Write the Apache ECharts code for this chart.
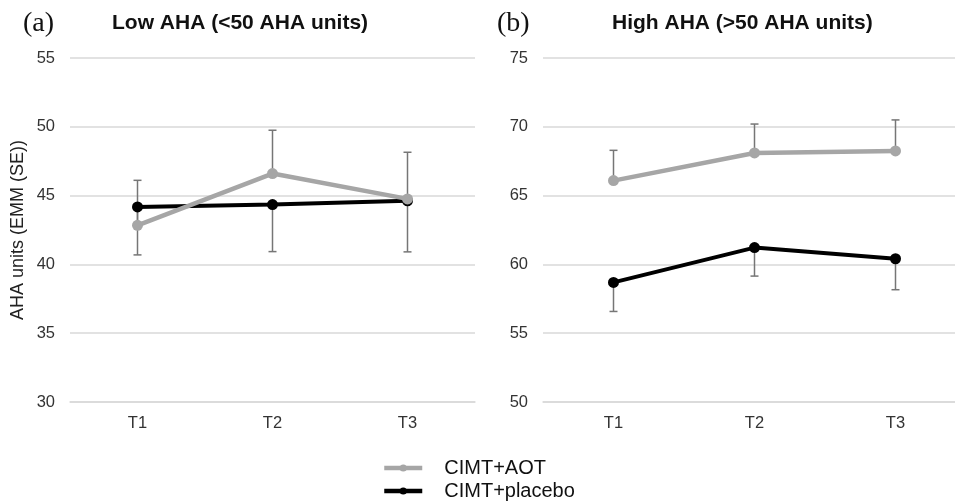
<!DOCTYPE html>
<html>
<head>
<meta charset="utf-8">
<script src="https://cdn.jsdelivr.net/npm/echarts@6/dist/echarts.min.js"></script>
<style>html,body{margin:0;padding:0;background:#fff;}#chart{width:955px;height:504px;}</style>
</head>
<body>
<div id="chart"></div>
<script>
const categories = ['T1', 'T2', 'T3'];
const lowAOT = [42.84, 46.6, 44.76];
const lowAOTse = [3.27, 3.15, 3.39];
const lowPlacebo = [44.18, 44.35, 44.62];
const lowPlaceboSe = [3.49, 3.42, 3.71];
const highAOT = [66.09, 68.1, 68.25];
const highAOTse = [2.2, 2.1, 2.25];
const highPlacebo = [58.69, 61.22, 60.41];
const highPlaceboSe = [2.11, 2.07, 2.25];
const lowTicks = [30, 55, 5];
const highTicks = [50, 75, 5];
const seriesNames = ['CIMT+AOT', 'CIMT+placebo'];

const GRAY = '#a6a6a6', BLACK = '#000000', ERR = '#767676';
const SANS = 'Liberation Sans, Arial, sans-serif';
const SERIF = 'Liberation Serif, Times New Roman, serif';

function errData(vals, se, sign) {
  return vals.map((v, i) => [i, v, v + sign * se[i]]);
}
function renderErr(params, api) {
  const x = api.value(0);
  const a = api.coord([x, api.value(1)]);
  const b = api.coord([x, api.value(2)]);
  const style = { stroke: ERR, lineWidth: 1.5 };
  return {
    type: 'group',
    children: [
      { type: 'line', shape: { x1: a[0], y1: a[1], x2: b[0], y2: b[1] }, style },
      { type: 'line', shape: { x1: b[0] - 4, y1: b[1], x2: b[0] + 4, y2: b[1] }, style }
    ]
  };
}
function errSeries(idx, vals, se, sign) {
  return {
    type: 'custom', xAxisIndex: idx, yAxisIndex: idx, z: 1, silent: true,
    renderItem: renderErr, data: errData(vals, se, sign)
  };
}
function lineSeries(idx, name, vals, color, width, z) {
  return {
    type: 'line', name, xAxisIndex: idx, yAxisIndex: idx, data: vals, z,
    symbol: 'circle', symbolSize: 11,
    lineStyle: { color, width }, itemStyle: { color }
  };
}
const axisFont = { color: '#333', fontSize: 16.5, fontFamily: SANS };
function xAx(idx) {
  return {
    type: 'category', gridIndex: idx, data: categories,
    axisLine: { show: true, lineStyle: { color: '#d9d9d9', width: 1.5 } },
    axisTick: { show: false },
    axisLabel: Object.assign({ margin: 13 }, axisFont)
  };
}
function yAx(idx, t, name) {
  return {
    type: 'value', gridIndex: idx, min: t[0], max: t[1], interval: t[2],
    name: name || '', nameLocation: 'middle', nameGap: 43,
    nameTextStyle: { color: '#222', fontSize: 18, fontFamily: SANS },
    axisLine: { show: false }, axisTick: { show: false },
    axisLabel: Object.assign({ margin: 15 }, axisFont),
    splitLine: { lineStyle: { color: '#d9d9d9', width: 1.5 } }
  };
}

const chart = echarts.init(document.getElementById('chart'), null, { renderer: 'canvas' });
chart.setOption({
  backgroundColor: '#fff',
  animation: false,
  title: [
    { text: '(a)', left: 18, top: 5, textStyle: { fontFamily: SERIF, fontSize: 28, fontWeight: 'normal', color: '#111' } },
    { text: 'Low AHA (<50 AHA units)', left: 107, top: 8, textStyle: { fontFamily: SANS, fontSize: 21, fontWeight: 'bold', color: '#111' } },
    { text: '(b)', left: 492, top: 5, textStyle: { fontFamily: SERIF, fontSize: 28, fontWeight: 'normal', color: '#111' } },
    { text: 'High AHA (>50 AHA units)', left: 607, top: 8, textStyle: { fontFamily: SANS, fontSize: 21, fontWeight: 'bold', color: '#111' } }
  ],
  legend: {
    orient: 'vertical', left: 382, top: 458, padding: 0, height: 48,
    itemWidth: 38, itemHeight: 9, itemGap: 3,
    lineStyle: { width: 4.5 },
    data: seriesNames,
    textStyle: { fontSize: 20, color: '#111', fontFamily: SANS, padding: [0, 0, 0, 17] }
  },
  grid: [
    { left: 70, top: 58, width: 405, height: 344, outerBoundsMode: 'none' },
    { left: 543, top: 58, width: 423, height: 344, outerBoundsMode: 'none' }
  ],
  xAxis: [xAx(0), xAx(1)],
  yAxis: [yAx(0, lowTicks, 'AHA units (EMM (SE))'), yAx(1, highTicks)],
  series: [
    errSeries(0, lowAOT, lowAOTse, 1),
    errSeries(0, lowPlacebo, lowPlaceboSe, -1),
    errSeries(1, highAOT, highAOTse, 1),
    errSeries(1, highPlacebo, highPlaceboSe, -1),
    lineSeries(0, seriesNames[1], lowPlacebo, BLACK, 4, 3),
    lineSeries(0, seriesNames[0], lowAOT, GRAY, 4.5, 4),
    lineSeries(1, seriesNames[1], highPlacebo, BLACK, 4, 3),
    lineSeries(1, seriesNames[0], highAOT, GRAY, 4.5, 4)
  ]
});
</script>
</body>
</html>
